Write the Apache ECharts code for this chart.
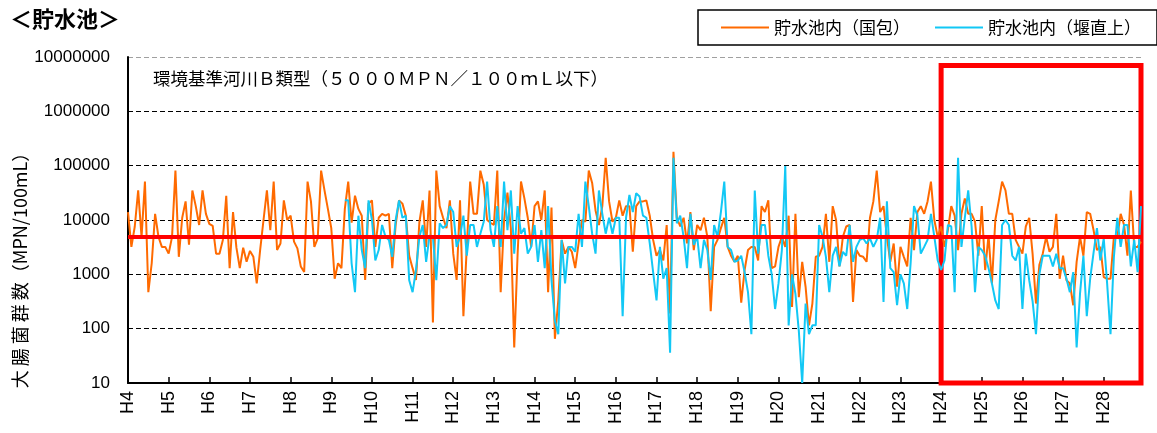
<!DOCTYPE html>
<html>
<head>
<meta charset="utf-8">
<script src="https://cdn.jsdelivr.net/npm/echarts@6/dist/echarts.min.js"></script>
<style>
html,body{margin:0;padding:0;background:#fff;}
#chart{width:1157px;height:433px;}
</style>
</head>
<body>
<div id="chart"></div>
<script>
// Fiscal years (H4–H28), monthly samples April..March
const years = ['H4','H5','H6','H7','H8','H9','H10','H11','H12','H13','H14','H15','H16','H17','H18','H19','H20','H21','H22','H23','H24','H25','H26','H27','H28'];
const months = ['4','5','6','7','8','9','10','11','12','1','2','3'];
const categories = years.flatMap(y => months.map(m => y + '/' + m));

const seriesNames = ['貯水池内（国包）', '貯水池内（堰直上）'];
const yTickValues = [10, 100, 1000, 10000, 100000, 1000000, 10000000];
const standardValue = 5000;          // 環境基準 B類型
const highlightFrom = 'H24/4';       // red frame start
const highlightTo = 'H28/3';
const highlightTop = 7000000;

// 貯水池内（国包） MPN/100mL
const kokuho = [
  14000,3200,7600,35000,4900,51000,470,1600,13000,4900,3200,3200,
  2400,4900,81000,2100,11000,22000,3500,35000,18000,8100,35000,13000,
  8500,7800,2400,2400,4300,28000,1300,14000,3100,1300,3100,1700,
  2700,2100,680,2800,10000,35000,6500,51000,2800,3700,23000,10000,
  12000,4000,3000,1400,1100,51000,22000,3200,4600,81000,35000,16000,
  7100,830,1600,1300,16000,51000,8900,28000,16000,12000,790,20000,
  23000,3200,11000,13000,12000,13000,1300,8100,23000,20000,12000,2200,
  1300,790,9100,23000,3200,35000,130,81000,18000,11000,7100,23000,
  2400,790,23000,170,3200,51000,13000,13000,81000,45000,10000,8900,
  8100,81000,470,10000,32000,7100,45,2400,51000,25000,11000,3200,
  18000,22000,10000,35000,470,17000,65,330,4300,2400,3200,2600,
  1300,3700,10000,9300,81000,48000,15000,8100,18000,140000,22000,9300,
  11000,23000,12000,18000,18000,2600,18000,22000,22000,23000,12000,4300,
  2200,2800,1800,8100,190,180000,11000,7600,11000,3700,14000,2800,
  8100,6500,11000,4900,210,3200,4300,7100,11000,3200,2200,1700,
  2200,300,1200,2800,3200,3200,1800,18000,14000,23000,1300,1400,
  3200,4900,3200,12000,250,13000,380,1700,590,115,290,2100,
  2200,3200,13000,1700,18000,10000,1400,4900,7600,8100,310,2800,
  2200,2100,1700,11000,22000,81000,14000,18000,4900,1700,3700,590,
  3200,2100,1400,11000,2800,14000,18000,13000,22000,51000,10000,4900,
  7600,3200,6500,18000,12000,2800,13000,25000,13000,13000,9300,2200,
  18000,1200,5200,680,10000,22000,51000,35000,13000,13000,4300,3200,
  2400,7600,11000,2400,290,1500,2400,4900,2600,3200,13000,830,
  2200,780,680,270,1700,4900,2200,14000,13000,6500,2800,3200,
  890,830,830,4900,4900,13000,8100,2200,35000,3200,3200,4000
];

// 貯水池内（堰直上） MPN/100mL — measured from H9 (Aug) onward
const sekiValues = [
  23000,23000,1600,470,12000,2800,1300,23000,
  10000,1800,2800,8100,4900,4300,2100,10000,23000,11000,12000,780,
  470,1200,4900,8100,1700,5200,4900,780,8700,7100,8100,18000,
  14000,3200,4900,12000,2200,8100,8100,3200,5600,9300,51000,6600,
  3200,18000,3200,51000,6500,35000,2400,18000,5600,7100,2400,3200,
  8100,1700,6500,1300,18000,780,140,79,4300,680,3200,3200,
  2600,13000,3200,51000,18000,5600,2400,35000,13000,5600,11000,5600,
  11000,11000,170,11000,29000,14000,31000,27000,12000,11000,3700,1100,
  330,3200,830,1300,36,140000,8700,12000,4900,1300,13000,3500,
  4900,1300,4300,2800,790,8100,4900,14000,51000,3200,2800,1700,
  1800,2200,1100,470,79,35000,2400,8100,8100,2200,1000,230,
  680,2800,98000,115,1000,440,91,10,290,79,115,115,
  8100,4900,2100,470,2200,3200,1400,2600,2200,8100,1700,3200,
  4300,4600,3700,4600,3200,4300,11000,310,22000,1300,1100,270,
  1000,680,230,1600,18000,12000,2400,3200,4300,13000,4900,1800,
  1200,1800,8100,7600,470,140000,3200,11000,35000,7600,470,3200,
  2800,2200,1300,680,330,230,8100,10000,8100,2200,1800,3200,
  230,2400,780,320,79,1000,2200,2200,2200,1400,2400,1300,
  1300,830,470,1100,45,440,2200,170,830,2500,7100,1800,
  4600,680,79,2100,11000,3200,8100,8100,1400,4300,1100,18000
];
const sekiChokujo = new Array(categories.length - sekiValues.length).fill(null).concat(sekiValues);

const CJK = "'Noto Sans CJK JP', sans-serif";
const NUM = "'Liberation Sans', Arial, sans-serif";

const chart = echarts.init(document.getElementById('chart'), null, {renderer: 'canvas'});
chart.setOption({
  animation: false,
  backgroundColor: '#fff',
  grid: {left: 128, right: 16, top: 57, bottom: 50, containLabel: false},
  legend: {
    left: 698, top: 10, width: 500,
    orient: 'horizontal',
    data: seriesNames,
    icon: 'rect', itemWidth: 48, itemHeight: 2, itemGap: 25,
    padding: [9, 16, 9, 23],
    borderColor: '#000', borderWidth: 1.5,
    selectedMode: false,
    textStyle: {fontSize: 17, fontFamily: CJK, color: '#000'}
  },
  xAxis: {
    type: 'category',
    data: categories,
    boundaryGap: false,
    axisLine: {lineStyle: {color: '#000', width: 2}},
    axisTick: {show: true, inside: true, length: 6, interval: (i) => i % 12 === 0, lineStyle: {color: '#000', width: 1.5}},
    axisLabel: {
      interval: (i) => i % 12 === 0,
      formatter: (v) => v.split('/')[0],
      rotate: 90, margin: 8,
      fontSize: 18, fontFamily: NUM, color: '#000'
    },
    splitLine: {show: false}
  },
  yAxis: {
    type: 'log', logBase: 10, min: yTickValues[0], max: yTickValues[yTickValues.length - 1],
    axisLine: {show: true, lineStyle: {color: '#000', width: 2}},
    axisTick: {show: false},
    axisLabel: {formatter: (v) => String(Math.round(v)), fontSize: 17, fontFamily: NUM, color: '#000', margin: 18},
    splitLine: {show: true, lineStyle: {color: ['#000','#000','#000','#000','#000','#000','#a0a0a0'], type: [5, 3], width: 1}}
  },
  graphic: [
    {type: 'text', left: 10, top: 8, style: {text: '＜貯水池＞', fontSize: 22, fontWeight: 'bold', fontFamily: CJK, fill: '#000'}},
    {type: 'text', left: 153, top: 70, style: {text: '環境基準河川Ｂ類型（５０００ＭＰＮ／１００ｍＬ以下）', fontSize: 17.5, fontFamily: CJK, fill: '#000'}},
    {type: 'text', x: 20, y: 266, rotation: Math.PI / 2,
     style: {text: '大 腸 菌 群 数（MPN/100mL）', fontSize: 18, fontFamily: CJK, fill: '#000', align: 'center', verticalAlign: 'middle'}}
  ],
  series: [
    {
      name: seriesNames[0], type: 'line', data: kokuho,
      symbol: 'none', color: '#ff6a00',
      lineStyle: {width: 2, color: '#ff6a00'}, z: 2
    },
    {
      name: seriesNames[1], type: 'line', data: sekiChokujo,
      symbol: 'none', color: '#12c8f5', connectNulls: false,
      lineStyle: {width: 2, color: '#12c8f5'}, z: 3
    },
    {
      name: 'markers', type: 'line', data: [], z: 10, silent: true,
      markLine: {
        silent: true, symbol: ['none', 'none'], label: {show: false},
        lineStyle: {color: '#ff0000', width: 4, type: 'solid'},
        data: [{yAxis: standardValue}]
      },
      markArea: {
        silent: true,
        itemStyle: {color: 'rgba(0,0,0,0)', borderColor: '#ff0000', borderWidth: 5},
        data: [[{xAxis: highlightFrom, yAxis: yTickValues[0]}, {xAxis: highlightTo, yAxis: highlightTop}]]
      }
    }
  ]
});
</script>
</body>
</html>
